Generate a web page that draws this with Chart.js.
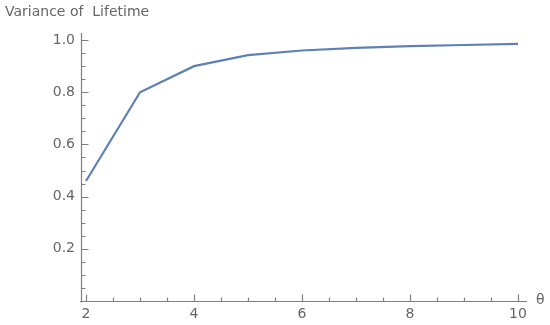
<!DOCTYPE html>
<html>
<head>
<meta charset="utf-8">
<script src="https://cdn.jsdelivr.net/npm/chart.js@4.4.1/dist/chart.umd.min.js"></script>
<style>
  html, body { margin: 0; padding: 0; background: #fff; }
  #wrap { width: 550px; height: 325px; position: relative; }
</style>
</head>
<body>
<div id="wrap"><canvas id="chart"></canvas></div>
<script>
// data
const thetaValues = [2, 3, 4, 5, 6, 7, 8, 9, 10];
const varianceValues = [0.46, 0.8, 0.9, 0.942, 0.96, 0.97, 0.977, 0.981, 0.985];

const xTicks = [2, 4, 6, 8, 10];
const yTicks = [0.2, 0.4, 0.6, 0.8, 1.0];
const xMinorTicks = [2.5, 3, 3.5, 4.5, 5, 5.5, 6.5, 7, 7.5, 8.5, 9, 9.5];
const yMinorTicks = [0.05, 0.1, 0.15, 0.25, 0.3, 0.35, 0.45, 0.5, 0.55,
  0.65, 0.7, 0.75, 0.85, 0.9, 0.95];

const titleText = "Variance of  Lifetime";
const xAxisLabel = "θ";

const textColor = "#666666";
const axisColor = "#808080";
const font = { family: "DejaVu Sans", size: 14 };

// mathematica style axes: ticks point into the plot
const axesPlugin = {
  id: "mmaAxes",
  afterDraw(chart) {
    const { ctx, chartArea: a, scales } = chart;
    const x = scales.x, y = scales.y;
    const x0 = Math.round(a.left) + 0.5;
    const y0 = Math.round(a.bottom) + 0.5;
    ctx.save();
    ctx.strokeStyle = axisColor;
    ctx.lineWidth = 1.2;
    ctx.beginPath();
    ctx.moveTo(x0, a.top);
    ctx.lineTo(x0, y0 + 1);
    ctx.moveTo(a.left - 1, y0);
    ctx.lineTo(a.right, y0);

    xTicks.forEach(v => {
      const px = Math.round(x.getPixelForValue(v)) + 0.5;
      ctx.moveTo(px, y0);
      ctx.lineTo(px, y0 - 7);
    });
    xMinorTicks.forEach(v => {
      const px = Math.round(x.getPixelForValue(v)) + 0.5;
      ctx.moveTo(px, y0);
      ctx.lineTo(px, y0 - 4);
    });
    yTicks.forEach(v => {
      const py = Math.round(y.getPixelForValue(v)) + 0.5;
      ctx.moveTo(x0, py);
      ctx.lineTo(x0 + 7, py);
    });
    yMinorTicks.forEach(v => {
      const py = Math.round(y.getPixelForValue(v)) + 0.5;
      ctx.moveTo(x0, py);
      ctx.lineTo(x0 + 4, py);
    });
    ctx.stroke();

    ctx.fillStyle = textColor;
    ctx.font = font.size + "px '" + font.family + "'";
    ctx.textAlign = "left";
    ctx.textBaseline = "alphabetic";
    ctx.fillText(titleText, 5, 16);
    ctx.textBaseline = "middle";
    ctx.fillText(xAxisLabel, 536, y0 - 1);
    ctx.restore();
  }
};

new Chart(document.getElementById("chart"), {
  type: "line",
  data: {
    datasets: [{
      data: thetaValues.map((t, i) => ({ x: t, y: varianceValues[i] })),
      borderColor: "#5e81b5",
      borderWidth: 2.2,
      pointRadius: 0,
      tension: 0,
      fill: false
    }]
  },
  options: {
    responsive: true,
    maintainAspectRatio: false,
    animation: false,
    layout: { padding: { left: 0, top: 33, right: 23, bottom: 0 } },
    plugins: { legend: { display: false }, tooltip: { enabled: false } },
    scales: {
      x: {
        type: "linear",
        min: 1.907,
        max: 10.167,
        grid: { display: false, drawTicks: false },
        border: { display: false },
        afterFit: s => { s.height = 24; },
        afterBuildTicks: s => { s.ticks = xTicks.map(v => ({ value: v })); },
        ticks: { color: textColor, font, padding: 5, maxRotation: 0,
          callback: v => String(v) }
      },
      y: {
        min: 0,
        max: 1.027,
        grid: { display: false, drawTicks: false },
        border: { display: false },
        afterFit: s => { s.width = 81; },
        afterBuildTicks: s => { s.ticks = yTicks.map(v => ({ value: v })); },
        ticks: { color: textColor, font, padding: 6,
          callback: v => v.toFixed(1) }
      }
    }
  },
  plugins: [axesPlugin]
});
</script>
</body>
</html>
